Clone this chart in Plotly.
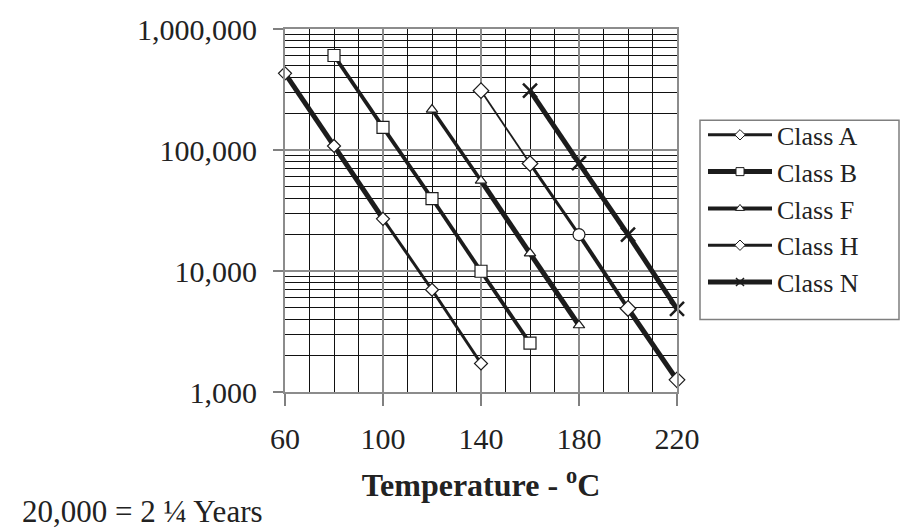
import plotly.graph_objects as go

# ---- data ----
temps_A = [60, 80, 100, 120, 140]
hours_A = [430000, 108000, 27000, 7000, 1720]

temps_B = [80, 100, 120, 140, 160]
hours_B = [604000, 154000, 39700, 9950, 2530]

temps_F = [120, 140, 160, 180]
hours_F = [216000, 55800, 14000, 3560]

temps_H = [140, 160, 180, 200, 220]
hours_H = [309000, 77300, 20000, 4900, 1260]

temps_N = [160, 180, 200, 220]
hours_N = [309000, 78000, 20000, 4860]

class_names = ["Class A", "Class B", "Class F", "Class H", "Class N"]

x_tick_vals = [60, 100, 140, 180, 220]
x_tick_text = ["60", "100", "140", "180", "220"]
y_tick_vals = [1000, 10000, 100000, 1000000]
y_tick_text = ["1,000", "10,000", "100,000", "1,000,000"]

note_text = "20,000 = 2 ¼ Years"
x_title = "<b>Temperature - <sup>o</sup>C</b>"

# ---- styles ----
INK = "#1c1c1c"
SERIF = "Liberation Serif, Times New Roman, serif"

series = [
    dict(x=temps_A, y=hours_A, seg_w=[5, 5, 3, 3], leg_w=3,
         sym=["diamond"] * 5, size=10),
    dict(x=temps_B, y=hours_B, seg_w=[3.8, 3.8, 3.8, 3.8], leg_w=5,
         sym=["square"] * 5, size=12),
    dict(x=temps_F, y=hours_F, seg_w=[3.5, 5, 5], leg_w=4,
         sym=["triangle-up"] * 4, size=10),
    dict(x=temps_H, y=hours_H, seg_w=[1.8, 3, 4, 5], leg_w=3,
         sym=["diamond", "diamond", "circle", "diamond", "diamond"], size=12),
    dict(x=temps_N, y=hours_N, seg_w=[5, 5, 5], leg_w=5,
         sym=["x-thin"] * 4, size=14),
]

fig = go.Figure()

for name, s in zip(class_names, series):
    # line segments (width varies along the line, as in the reference)
    for i in range(len(s["x"]) - 1):
        fig.add_trace(go.Scatter(
            x=s["x"][i:i + 2], y=s["y"][i:i + 2], mode="lines",
            line=dict(color=INK, width=s["seg_w"][i]),
            showlegend=False, hoverinfo="skip", cliponaxis=False))
    # markers on top
    is_x = s["sym"][0] == "x-thin"
    fig.add_trace(go.Scatter(
        x=s["x"], y=s["y"], mode="markers", name=name, showlegend=False,
        cliponaxis=False,
        marker=dict(symbol=s["sym"], size=s["size"],
                    color=INK if is_x else "white",
                    line=dict(color=INK, width=2.5 if is_x else 1.2))))
    # legend entry
    fig.add_trace(go.Scatter(
        x=[None], y=[None], mode="lines+markers", name=name,
        line=dict(color=INK, width=s["leg_w"]),
        marker=dict(symbol=s["sym"][0], size=8,
                    color=INK if is_x else "white",
                    line=dict(color=INK, width=1.5 if is_x else 1))))

minor_y = [m * d for d in [1000, 10000, 100000] for m in range(2, 10)]

fig.update_xaxes(
    range=[60, 220], tickmode="array", tickvals=x_tick_vals, ticktext=x_tick_text,
    ticks="outside", ticklen=12, tickcolor="#808080", tickwidth=1.5,
    showgrid=True, gridcolor="#8c8c8c", gridwidth=2,
    showline=True, mirror=True, linecolor="#8c8c8c", linewidth=2,
    zeroline=False, ticklabelstandoff=7,
    tickfont=dict(family=SERIF, size=30, color="#222"),
    minor=dict(tickmode="linear", tick0=60, dtick=10, showgrid=True,
               gridcolor="#111", gridwidth=1, ticks=""),
    title=dict(text=x_title, font=dict(family=SERIF, size=32, color="#222"),
               standoff=20),
)
fig.update_yaxes(
    type="log", range=[3, 6], tickmode="array", tickvals=y_tick_vals,
    ticktext=y_tick_text,
    ticks="outside", ticklen=10, tickcolor="#808080", tickwidth=1.5,
    showgrid=True, gridcolor="#8c8c8c", gridwidth=2,
    showline=True, mirror=True, linecolor="#8c8c8c", linewidth=2,
    zeroline=False, ticklabelstandoff=10,
    tickfont=dict(family=SERIF, size=30, color="#222"),
    minor=dict(tickmode="array", tickvals=minor_y, showgrid=True,
               gridcolor="#111", gridwidth=1, ticks=""),
)

fig.add_annotation(
    text=note_text, xref="paper", yref="paper", x=-0.676, y=-0.33,
    xanchor="left", yanchor="middle", showarrow=False,
    font=dict(family=SERIF, size=31, color="#222"))

# legend frame (the reference box is wider than plotly's auto-sized one)
fig.add_shape(type="rect", xref="paper", yref="paper",
              x0=(700 - 285) / 392, x1=(899 - 285) / 392,
              y0=(392 - 318) / 370, y1=(392 - 115) / 370,
              line=dict(color="#7f7f7f", width=1.5), fillcolor="rgba(0,0,0,0)",
              layer="above")

fig.update_layout(
    width=902, height=532,
    margin=dict(l=285, r=225, t=22, b=140),
    paper_bgcolor="white", plot_bgcolor="white",
    showlegend=True,
    legend=dict(x=(703 - 285) / 392, y=(392 - 106) / 370,
                xanchor="left", yanchor="top",
                borderwidth=0, bgcolor="rgba(0,0,0,0)",
                font=dict(family=SERIF, size=26, color="#222"),
                itemwidth=64, tracegroupgap=0),
)

fig.write_html("out.html")
